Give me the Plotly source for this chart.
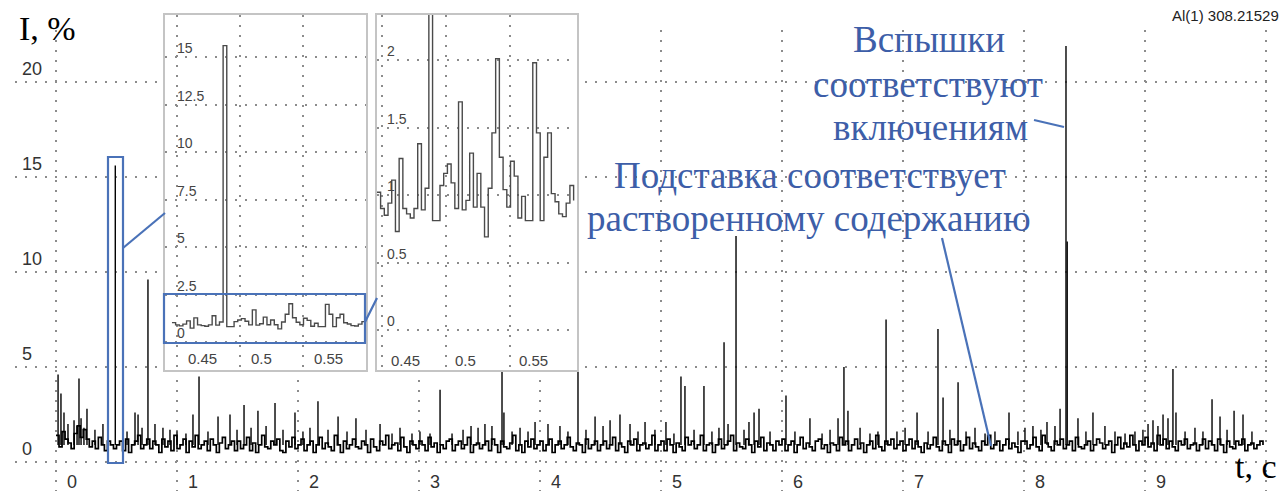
import plotly.graph_objects as go

# ---------------- data ----------------
# main signal background level, sampled every 0.025 s from t = 0
base_dt = 0.025
base_v = [
    1.4, 0.8, 1.6, 1.2, 1.0, 0.7, 1.5, 1.9, 1.3, 1.7, 1.2, 0.8, 1.1, 0.7, 1.3, 0.9, 0.6, 1.1, 0.9, 0.7,
    0.9, 1.1, 0.6, 1.2, 0.5, 0.9, 1.1, 1.4, 0.7, 0.9, 1.2, 0.7, 1.1, 0.9, 0.5, 1.2, 0.8, 1.1, 0.6, 1.4,
    0.7, 0.9, 1.2, 0.5, 1.1, 0.8, 1.4, 0.7, 0.9, 1.1, 0.6, 1.2, 0.9, 0.5, 1.0, 1.3, 0.7, 0.9, 1.1, 0.6,
    1.1, 0.7, 0.9, 1.3, 0.6, 1.0, 0.5, 0.9, 1.4, 0.8, 0.7, 1.1, 0.9, 1.2, 0.6, 0.5, 1.1, 0.8, 1.3, 0.7,
    0.9, 1.2, 0.6, 0.9, 1.1, 0.5, 0.9, 1.3, 0.7, 1.0, 0.8, 0.6, 1.4, 0.9, 0.5, 1.1, 0.7, 0.9, 1.2, 0.8,
    0.7, 1.1, 0.9, 0.5, 1.2, 0.8, 0.6, 1.1, 0.9, 1.4, 0.7, 0.9, 1.0, 0.6, 1.3, 0.8, 0.5, 1.1, 0.9, 0.7,
    1.1, 0.9, 0.6, 1.3, 0.8, 1.0, 0.5, 0.9, 0.7, 1.1, 1.2, 0.6, 0.9, 1.1, 0.7, 0.9, 1.3, 0.5, 0.9, 1.0,
    0.7, 0.9, 1.1, 0.6, 1.2, 0.9, 0.5, 1.1, 0.8, 0.7, 1.0, 1.4, 0.6, 0.9, 0.5, 1.1, 0.8, 1.2, 0.7, 0.9,
    1.1, 0.6, 0.9, 1.2, 0.5, 0.9, 1.1, 0.7, 0.9, 1.3, 0.8, 0.6, 1.0, 0.9, 0.5, 1.2, 0.7, 0.9, 1.1, 0.6,
    0.9, 1.1, 0.7, 0.9, 1.3, 0.6, 1.0, 0.8, 0.5, 1.1, 0.9, 1.2, 0.6, 0.9, 1.0, 0.7, 0.9, 1.4, 0.6, 0.9,
    1.1, 0.6, 1.2, 0.9, 0.5, 1.0, 0.8, 0.6, 1.3, 0.9, 1.1, 0.7, 0.9, 1.4, 0.6, 0.9, 1.0, 0.5, 0.9, 1.2,
    0.7, 0.9, 1.1, 1.4, 0.6, 1.0, 0.8, 0.7, 1.2, 0.9, 0.5, 1.1, 0.8, 1.3, 0.6, 1.0, 0.9, 0.6, 1.1, 0.9,
    1.2, 0.6, 0.9, 1.1, 0.5, 0.9, 1.3, 0.7, 1.0, 0.8, 0.6, 1.1, 1.2, 0.7, 0.9, 0.5, 1.0, 0.9, 0.6, 1.3,
    0.9, 1.1, 0.6, 0.9, 1.2, 0.7, 1.0, 0.5, 0.9, 1.1, 0.7, 1.4, 0.8, 0.6, 1.1, 0.9, 1.2, 0.7, 0.9, 1.1,
    0.6, 0.9, 1.2, 0.7, 1.1, 0.8, 0.5, 1.0, 0.7, 0.9, 1.3, 0.8, 0.6, 1.1, 0.9, 0.5, 1.2, 0.9, 1.1, 0.6,
    0.9, 1.3, 0.7, 1.0, 0.8, 0.6, 1.1, 0.9, 1.4, 0.7, 0.9, 1.1, 0.6, 0.9, 1.2, 0.7, 1.0, 0.8, 0.5, 1.1,
    1.1, 0.7, 0.9, 1.3, 0.8, 0.6, 1.4, 1.0, 0.8, 0.6, 1.1, 0.9, 1.2, 0.7, 0.9, 1.1, 0.6, 1.3, 0.8, 0.7,
    0.9, 1.1, 0.6, 0.9, 1.2, 1.0, 0.7, 0.9, 1.1, 0.5, 0.9, 1.3, 0.7, 1.0, 0.8, 1.4, 0.9, 0.6, 1.1, 0.9,
    1.3, 0.8, 1.0, 0.6, 1.4, 0.9, 1.2, 0.7, 1.1, 0.8, 0.6, 1.1, 0.9, 1.2, 0.7, 0.9, 1.0, 0.6, 0.9, 1.2,
    0.7, 1.1, 0.9, 0.6, 1.2, 0.9, 0.5, 1.1, 0.8, 0.7, 1.1, 0.9, 1.2, 0.6, 0.9, 1.0, 0.7, 0.9, 1.1, 0.9,
]
spike_base = 0.9
spike_t = [
    0.017, 0.041, 0.066, 0.099, 0.149, 0.174, 0.190, 0.207, 0.231, 0.256, 0.322, 0.388, 0.490, 0.587,
    0.653, 0.678, 0.711, 0.760, 0.818, 0.884, 0.942, 1.000, 1.074, 1.132, 1.182, 1.256, 1.339, 1.438,
    1.496, 1.554, 1.612, 1.669, 1.736, 1.810, 1.876, 1.975, 2.041, 2.099, 2.165, 2.248, 2.331, 2.405,
    2.479, 2.562, 2.678, 2.777, 2.843, 2.942, 3.008, 3.091, 3.174, 3.273, 3.364, 3.430, 3.488, 3.545,
    3.603, 3.686, 3.702, 3.769, 3.835, 3.901, 3.959, 4.066, 4.165, 4.231, 4.314, 4.380, 4.455, 4.521,
    4.579, 4.661, 4.744, 4.810, 4.868, 4.950, 5.041, 5.107, 5.165, 5.198, 5.273, 5.355, 5.421, 5.479,
    5.521, 5.554, 5.620, 5.686, 5.727, 5.769, 5.810, 5.901, 6.033, 6.107, 6.231, 6.331, 6.397, 6.463,
    6.512, 6.545, 6.645, 6.727, 6.793, 6.860, 6.950, 7.017, 7.116, 7.207, 7.289, 7.331, 7.388, 7.455,
    7.521, 7.595, 7.678, 7.760, 7.876, 7.950, 8.008, 8.074, 8.140, 8.190, 8.256, 8.298, 8.347, 8.357,
    8.446, 8.512, 8.570, 8.669, 8.752, 8.835, 8.917, 8.983, 9.025, 9.066, 9.107, 9.149, 9.190, 9.231,
    9.256, 9.331, 9.413, 9.479, 9.554, 9.620, 9.678, 9.736, 9.810, 9.884,
]
spike_h = [
    4.6, 3.6, 2.6, 2.0, 2.2, 1.9, 4.4, 2.3, 1.8, 2.8, 1.7, 2.0, 15.6, 1.6,
    2.6, 2.5, 1.8, 9.6, 2.0, 1.8, 1.7, 1.6, 1.5, 2.5, 4.5, 1.6, 2.4, 2.5,
    1.7, 3.0, 1.8, 2.7, 1.9, 3.1, 1.7, 2.6, 1.6, 1.8, 3.2, 1.7, 2.4, 1.6,
    2.3, 1.7, 2.0, 1.5, 1.8, 1.5, 1.6, 1.5, 3.8, 1.5, 1.7, 1.9, 1.8, 2.0,
    1.9, 4.9, 2.6, 1.6, 1.8, 1.6, 2.1, 2.0, 1.9, 1.6, 7.3, 1.7, 2.4, 1.9,
    2.2, 2.5, 2.0, 1.6, 2.1, 1.7, 2.1, 1.5, 4.5, 4.0, 1.7, 4.0, 1.6, 1.8,
    6.3, 2.0, 11.9, 1.7, 2.1, 2.6, 2.8, 1.6, 3.5, 1.6, 2.3, 1.5, 1.7, 2.3,
    5.0, 2.7, 1.8, 1.5, 1.6, 7.5, 1.6, 1.8, 2.6, 1.6, 7.0, 3.4, 1.7, 4.2,
    1.6, 1.8, 1.5, 1.6, 2.6, 1.6, 1.8, 1.9, 1.7, 2.1, 1.9, 2.8, 21.9, 11.6,
    2.3, 1.6, 2.6, 1.9, 1.6, 1.5, 1.6, 1.7, 2.0, 2.2, 1.9, 2.5, 2.3, 4.9,
    2.6, 1.6, 1.8, 1.6, 3.3, 2.4, 1.7, 2.7, 2.5, 1.6,
]
# zoomed fragment (insets), step signal
ins_t0 = 0.4460
ins_dt = 0.0029
ins_v = [
    1.02, 0.90, 0.85, 0.94, 1.11, 0.73, 1.27, 0.90, 0.86, 0.83, 0.90, 1.38, 0.89, 1.05, 15.6,
    0.81, 0.81, 1.07, 1.16, 1.23, 1.09, 0.90, 1.69, 0.89, 0.96, 1.31, 0.91, 1.16, 0.91, 0.69,
    1.05, 1.46, 2.01, 1.28, 1.04, 0.91, 1.25, 1.14, 0.83, 0.99, 0.81, 0.81, 1.98, 1.46, 0.81,
    1.28, 1.46, 1.01, 0.95, 0.86, 0.84, 0.94, 1.07, 0.96,
]
x_ticks = [0, 1, 2, 3, 4, 5, 6, 7, 8, 9]
x_grid = [0, 1, 2, 3, 4, 5, 6, 7, 8, 9, 10]
y_ticks = [0, 5, 10, 15, 20]
ins1_yticks = [0, 2.5, 5, 7.5, 10, 12.5, 15]
ins2_yticks = [0, 0.5, 1, 1.5, 2]
ins_xticks = [0.45, 0.5, 0.55]

# ---------------- layout helpers ----------------
W, H = 1283, 491
L, R, T, B = 15, 8, 14, 0
PW, PH = W - L - R, H - T - B


def px_x(px):
    return (px - L) / PW


def px_y(py):
    return (H - B - py) / PH


base_t = [i * base_dt for i in range(len(base_v))]
ins_t = [ins_t0 + i * ins_dt for i in range(len(ins_v))]
sx, sy = [], []
for t, h in zip(spike_t, spike_h):
    sx += [t, t, None]
    sy += [spike_base, h, None]

fig = go.Figure()
fig.add_trace(go.Scatter(x=base_t, y=base_v, mode="lines",
                         line=dict(color="black", width=1.7, shape="hv"),
                         xaxis="x", yaxis="y", hoverinfo="skip"))
fig.add_trace(go.Scatter(x=sx, y=sy, mode="lines",
                         line=dict(color="black", width=1.4),
                         xaxis="x", yaxis="y", hoverinfo="skip"))
fig.add_trace(go.Scatter(x=ins_t, y=ins_v, mode="lines",
                         line=dict(color="#4a4a4a", width=1.4, shape="hv"),
                         xaxis="x2", yaxis="y2", hoverinfo="skip"))
fig.add_trace(go.Scatter(x=ins_t, y=ins_v, mode="lines",
                         line=dict(color="#4a4a4a", width=1.4, shape="hv"),
                         xaxis="x3", yaxis="y3", hoverinfo="skip"))

grid = dict(showgrid=True, gridcolor="#8c8c8c", gridwidth=1.5, griddash="2px,8px",
            zeroline=False, showticklabels=False, ticks="", tickmode="array")
frame = dict(showline=True, mirror=True, linecolor="#c4c4c4", linewidth=1.5)

fig.update_layout(
    width=W, height=H,
    margin=dict(l=L, r=R, t=T, b=B),
    paper_bgcolor="white", plot_bgcolor="white",
    showlegend=False,
    xaxis=dict(grid, domain=[0, 1], range=[(L - 56) / 121, (L + PW - 56) / 121],
               tickvals=x_grid, anchor="y"),
    yaxis=dict(grid, domain=[0, px_y(30)], range=[(462 - 491) / 19, (462 - 30) / 19],
               tickvals=y_ticks, anchor="x"),
    xaxis2=dict(grid, **frame, domain=[px_x(165), px_x(366)],
                range=[0.45 - 12 / 1260, 0.45 + 189 / 1260], tickvals=ins_xticks, anchor="y2"),
    yaxis2=dict(grid, **frame, domain=[px_y(370), px_y(15)],
                range=[(342 - 370) / 19, (342 - 15) / 19], tickvals=ins1_yticks, anchor="x2"),
    xaxis3=dict(grid, **frame, domain=[px_x(377), px_x(577)],
                range=[0.45 - 5 / 1280, 0.45 + 195 / 1280], tickvals=ins_xticks, anchor="y3"),
    yaxis3=dict(grid, **frame, domain=[px_y(370), px_y(15)],
                range=[(330 - 370) / 135, (330 - 15) / 135], tickvals=ins2_yticks, anchor="x3"),
)

sans = "Arial, Liberation Sans, sans-serif"
serif = "Times New Roman, Liberation Serif, serif"
blue_txt = "#3d5ea8"
blue_ln = "#4a72b8"
ann = []
for v in y_ticks:
    ann.append(dict(x=px_x(20), xref="paper", xanchor="left", y=v, yref="y", yanchor="middle",
                    yshift=13, text=str(v), showarrow=False,
                    font=dict(family=sans, size=18, color="#333")))
for t in x_ticks:
    ann.append(dict(x=t, xref="x", xanchor="center", xshift=16, y=px_y(482), yref="paper",
                    yanchor="middle", text=str(t), showarrow=False,
                    font=dict(family=sans, size=18, color="#333")))
for v in ins1_yticks:
    ann.append(dict(x=px_x(175), xref="paper", xanchor="left", y=v, yref="y2", yanchor="middle",
                    yshift=9, text=f"{v:g}", showarrow=False,
                    font=dict(family=sans, size=14, color="#444")))
for v in ins2_yticks:
    ann.append(dict(x=px_x(385), xref="paper", xanchor="left", y=v, yref="y3", yanchor="middle",
                    yshift=9, text=f"{v:g}", showarrow=False,
                    font=dict(family=sans, size=14, color="#444")))
for t in ins_xticks:
    ann.append(dict(x=t, xref="x2", xanchor="left", xshift=9, y=px_y(358), yref="paper",
                    yanchor="middle", text=f"{t:g}", showarrow=False,
                    font=dict(family=sans, size=15, color="#444")))
    ann.append(dict(x=t, xref="x3", xanchor="left", xshift=7, y=px_y(360), yref="paper",
                    yanchor="middle", text=f"{t:g}", showarrow=False,
                    font=dict(family=sans, size=15, color="#444")))

ann += [
    dict(x=px_x(17), xref="paper", xanchor="left", y=px_y(29), yref="paper", yanchor="middle",
         text="I, %", showarrow=False, font=dict(family=serif, size=34, color="black")),
    dict(x=px_x(1279), xref="paper", xanchor="right", y=px_y(466), yref="paper", yanchor="middle",
         text="t, c", showarrow=False, font=dict(family=serif, size=34, color="black")),
    dict(x=px_x(1281), xref="paper", xanchor="right", y=px_y(16), yref="paper", yanchor="middle",
         text="Al(1) 308.21529", showarrow=False, font=dict(family=sans, size=15, color="#222")),
]
for txt, cx, cy in [("Вспышки", 929, 40), ("соответствуют", 928, 84), ("включениям", 930, 128),
                    ("Подставка соответствует", 810, 175), ("растворенному содержанию", 809, 218)]:
    ann.append(dict(x=px_x(cx), xref="paper", xanchor="center", y=px_y(cy), yref="paper",
                    yanchor="middle", text=txt, showarrow=False,
                    font=dict(family=serif, size=37, color=blue_txt)))
fig.update_layout(annotations=ann)


def pline(x0, y0, x1, y1):
    return dict(type="line", xref="paper", yref="paper", x0=px_x(x0), y0=px_y(y0),
                x1=px_x(x1), y1=px_y(y1), line=dict(color=blue_ln, width=2.2))


def prect(x0, y0, x1, y1):
    return dict(type="rect", xref="paper", yref="paper", x0=px_x(x0), y0=px_y(y0),
                x1=px_x(x1), y1=px_y(y1), line=dict(color=blue_ln, width=2.2))


fig.update_layout(shapes=[
    prect(108, 157, 123, 463),
    pline(123, 248, 165, 213),
    prect(164, 294, 365, 343),
    pline(365, 322, 377, 298),
    pline(1034, 120, 1064, 127),
    pline(942, 238, 991, 446),
])

fig.write_html("out.html")
